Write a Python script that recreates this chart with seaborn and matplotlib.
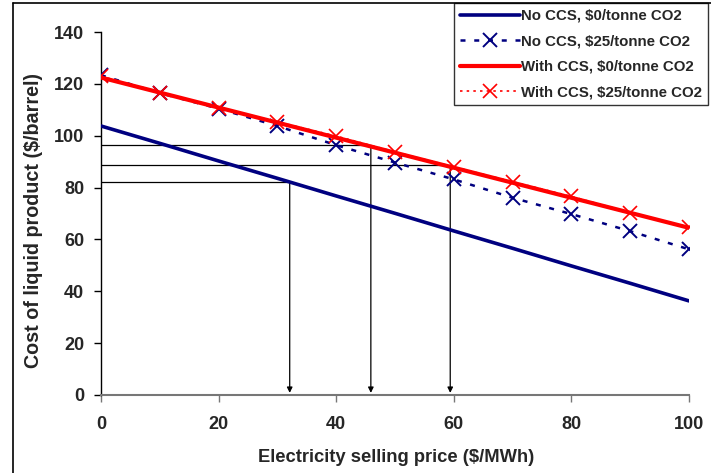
import matplotlib
matplotlib.use("Agg")
import matplotlib.pyplot as plt
from matplotlib.lines import Line2D
import seaborn as sns
import pandas as pd

# Electricity selling price ($/MWh)
price = [0, 10, 20, 30, 40, 50, 60, 70, 80, 90, 100]

# Cost of liquid product ($/barrel) for each case
no_ccs_0 = [103.8, 97.1, 90.3, 83.6, 76.8, 70.1, 63.3, 56.6, 49.8, 43.1, 36.3]
no_ccs_25 = [123.4, 116.5, 110.5, 103.8, 96.4, 89.7, 83.2, 76.1, 69.8, 63.2, 56.2]
ccs_0 = [122.5, 116.7, 110.9, 105.1, 99.3, 93.5, 87.7, 81.9, 76.1, 70.3, 64.5]
ccs_25 = [123.0, 116.7, 110.8, 105.4, 99.9, 93.8, 88.0, 82.3, 76.6, 70.4, 64.7]

labels = ["No CCS, $0/tonne CO2", "No CCS, $25/tonne CO2",
          "With CCS, $0/tonne CO2", "With CCS, $25/tonne CO2"]

# Break-even guide lines (price, cost)
guide_x = [32.1, 45.9, 59.4]
guide_y = [82.3, 96.3, 88.7]

x_ticks = [0, 20, 40, 60, 80, 100]
y_ticks = [0, 20, 40, 60, 80, 100, 120, 140]

sns.set_theme(style="white")
plt.rcParams["font.family"] = ["Liberation Sans", "DejaVu Sans"]
plt.rcParams["font.weight"] = "bold"

fig = plt.figure(figsize=(7.11, 4.73), dpi=100)
ax = fig.add_axes([0.142, 0.165, 0.827, 0.767])

navy = "#000080"
red = "#FF0000"

df = pd.DataFrame({"price": price, "no_ccs_0": no_ccs_0, "no_ccs_25": no_ccs_25,
                   "ccs_0": ccs_0, "ccs_25": ccs_25})

# Guide lines and arrows
for gx, gy in zip(guide_x, guide_y):
    ax.plot([0, gx], [gy, gy], color="black", lw=0.9, zorder=1)
    ax.annotate("", xy=(gx, 0.8), xytext=(gx, gy),
                arrowprops=dict(arrowstyle="-|>", color="black", lw=0.9,
                                mutation_scale=8, shrinkA=0, shrinkB=0),
                zorder=1)

sns.lineplot(data=df, x="price", y="no_ccs_0", ax=ax, color=navy, lw=2.6,
             label=labels[0], zorder=3)
sns.lineplot(data=df, x="price", y="no_ccs_25", ax=ax, color=navy, lw=1.8,
             linestyle=(0, (2.0, 3.5)), marker="x", markersize=10,
             markeredgewidth=1.4, markeredgecolor=navy, label=labels[1], zorder=4)
sns.lineplot(data=df, x="price", y="ccs_0", ax=ax, color=red, lw=3.0,
             label=labels[2], zorder=5)
sns.lineplot(data=df, x="price", y="ccs_25", ax=ax, color=red, lw=1.2,
             linestyle=(0, (1.5, 2.5)), marker="x", markersize=10,
             markeredgewidth=1.2, markeredgecolor=red, label=labels[3], zorder=6)

ax.set_xlim(0, 100)
ax.set_ylim(0, 140)
ax.set_xticks(x_ticks)
ax.set_yticks(y_ticks)
ax.tick_params(axis="y", direction="out", length=5, width=1, color="black",
               pad=7, labelsize=13, left=True)
ax.tick_params(axis="x", direction="out", length=5, width=1, color="#777777",
               pad=10, labelsize=13, bottom=True)
for lab in ax.get_xticklabels() + ax.get_yticklabels():
    lab.set_fontweight("bold")

for s in ["top", "right"]:
    ax.spines[s].set_visible(False)
ax.spines["left"].set_color("black")
ax.spines["left"].set_linewidth(1)
ax.spines["bottom"].set_color("#777777")
ax.spines["bottom"].set_linewidth(1.5)

ax.set_xlabel("Electricity selling price ($/MWh)", fontsize=13.2, fontweight="bold")
ax.set_ylabel("Cost of liquid product ($/barrel)", fontsize=14.2, fontweight="bold")
ax.xaxis.set_label_coords(0.5025, -0.149)
ax.yaxis.set_label_coords(-0.099, 0.482)

leg = ax.legend(loc="upper right", bbox_to_anchor=(0.996, 0.994),
                bbox_transform=fig.transFigure, frameon=True, fancybox=False,
                edgecolor="black", prop={"weight": "bold", "size": 10.8},
                handlelength=4.0, handletextpad=0.08, borderpad=0.4,
                labelspacing=0.77, borderaxespad=0)
leg.get_frame().set_linewidth(1.0)

# Outer chart frame (left and top edges)
fig.add_artist(Line2D([12.5 / 711, 12.5 / 711], [0, 1 - 3 / 473],
                      transform=fig.transFigure, color="black", lw=1.2))
fig.add_artist(Line2D([12.5 / 711, 1], [1 - 3 / 473, 1 - 3 / 473],
                      transform=fig.transFigure, color="black", lw=1.2))

fig.savefig("out.png", dpi=100)
